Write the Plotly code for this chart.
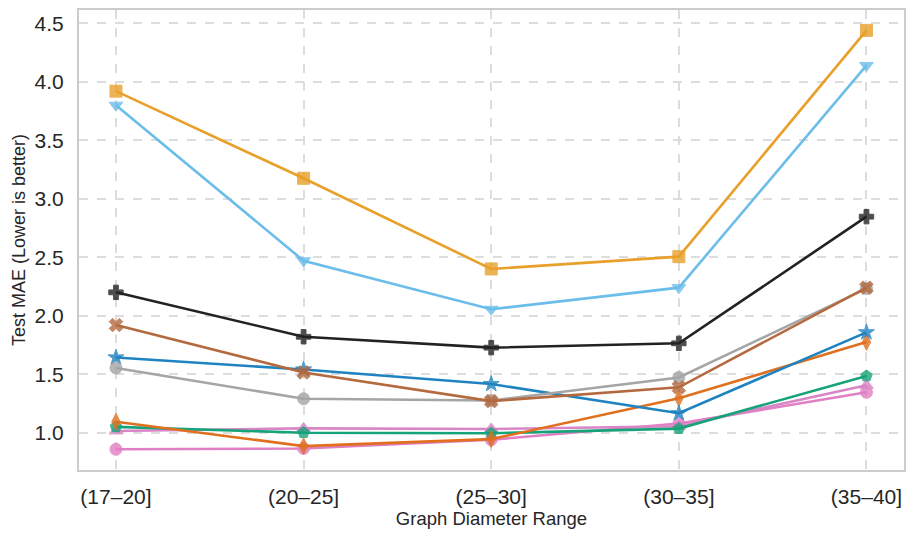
import plotly.graph_objects as go

categories = ["(17–20]", "(20–25]", "(25–30]", "(30–35]", "(35–40]"]

s_square = [3.92, 3.175, 2.40, 2.505, 4.44]
s_tridown = [3.80, 2.47, 2.055, 2.24, 4.14]
s_cross = [2.20, 1.82, 1.727, 1.764, 2.847]
s_x = [1.92, 1.515, 1.27, 1.388, 2.24]
s_grey = [1.553, 1.29, 1.275, 1.472, 2.232]
s_star = [1.643, 1.54, 1.416, 1.166, 1.858]
s_diamond = [1.094, 0.885, 0.945, 1.294, 1.775]
s_pentagon = [1.05, 1.0, 0.995, 1.035, 1.485]
s_triup = [1.015, 1.037, 1.032, 1.055, 1.405]
s_circle = [0.858, 0.865, 0.94, 1.078, 1.345]

series = [
    (s_circle, "#E07FC4", "circle"),
    (s_triup, "#D986C6", "triangle-up"),
    (s_pentagon, "#17A37A", "pentagon"),
    (s_diamond, "#E0701E", "diamond-tall"),
    (s_star, "#1F83C2", "star"),
    (s_grey, "#A5A5A5", "circle"),
    (s_x, "#B5693E", "x"),
    (s_cross, "#222222", "cross"),
    (s_tridown, "#6BBDEA", "triangle-down"),
    (s_square, "#E8A02A", "square"),
]

fig = go.Figure()
for vals, col, sym in series:
    fig.add_trace(go.Scatter(
        x=categories, y=vals, mode="lines",
        line=dict(color=col, width=2.6),
        showlegend=False, hoverinfo="skip",
    ))
    fig.add_trace(go.Scatter(
        x=categories, y=vals, mode="markers",
        marker=dict(symbol=sym, size=12, color=col, opacity=0.8,
                    line=dict(width=1, color=col)),
        showlegend=False,
    ))

# page body has an 8px margin, so the figure is sized/offset to compensate
fig.update_layout(
    width=906, height=532,
    margin=dict(l=71, r=10, t=2, b=70, autoexpand=False),
    paper_bgcolor="white", plot_bgcolor="white",
    font=dict(family="Liberation Sans, Arial, sans-serif", color="#262626"),
)
fig.update_xaxes(
    type="category", range=[-0.197, 4.2], automargin=False,
    showgrid=True, gridcolor="#DDDDDD", griddash="dash", gridwidth=1.5,
    showline=True, linecolor="#CCCCCC", linewidth=2, mirror=True,
    ticks="", tickfont=dict(size=21, color="#262626"), ticklabelstandoff=7,
    title=dict(text="Graph Diameter Range", font=dict(size=18.5, color="#262626"), standoff=4),
    zeroline=False,
)
fig.update_yaxes(
    range=[0.681, 4.614], automargin=False,
    tickvals=[1.0, 1.5, 2.0, 2.5, 3.0, 3.5, 4.0, 4.5],
    ticktext=["1.0", "1.5", "2.0", "2.5", "3.0", "3.5", "4.0", "4.5"],
    showgrid=True, gridcolor="#DDDDDD", griddash="dash", gridwidth=1.5,
    showline=True, linecolor="#CCCCCC", linewidth=2, mirror=True,
    ticks="", tickfont=dict(size=21, color="#262626"), ticklabelstandoff=9,
    title=dict(text="Test MAE (Lower is better)", font=dict(size=18, color="#262626"), standoff=4),
    zeroline=False,
)

fig.write_html("out.html")
